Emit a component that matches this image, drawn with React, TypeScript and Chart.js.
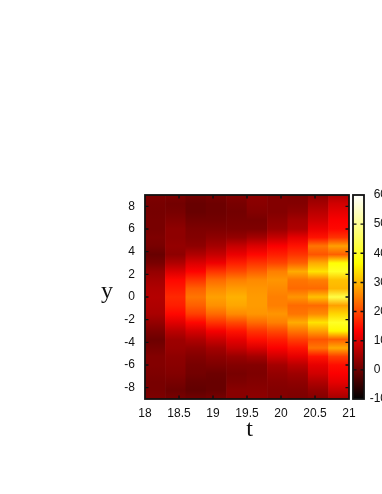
import React, { useEffect, useRef } from "react";
import { Chart, registerables } from "chart.js";

Chart.register(...registerables);

const rowY = [9, 8.25, 7.5, 6.75, 6, 5.25, 4.5, 3.75, 3, 2.25, 1.5, 0.75, 0, -0.75, -1.5, -2.25, -3, -3.75, -4.5, -5.25, -6, -6.75, -7.5, -8.25, -9];
const columnT = [18.15, 18.45, 18.75, 19.05, 19.35, 19.65, 19.95, 20.25, 20.55, 20.85];

const col0 = [1.5, 1, 0.8, 1, 1, 1.5, 1, -0.5, 1, 3.5, 5, 6, 6.5, 6, 5.5, 3.5, 1.5, 0, 1, 2, 2, 1.5, 1, 1, 1.5];
const col1 = [1.5, 0.5, 1, 2, 3, 3, 3.5, 3, 6, 10, 14, 15.5, 17, 16, 14, 10.5, 7, 4.5, 4, 3, 2.5, 2, 1, 0, 1];
const col2 = [0.5, -0.5, -0.5, 0.5, 1.5, 2, 3, 6, 10, 13.5, 18, 22, 24, 22, 19, 14, 9.5, 6, 3.5, 2, 1, 0.5, -0.5, -1, 0.5];
const col3 = [1, 0, 0, 0.5, 1.5, 3, 5, 8, 12, 18, 23, 26, 28, 26.5, 23, 18, 12.5, 8.5, 5, 3, 1.5, 0, -0.5, -0.5, 1];
const col4 = [2, 1, 0.5, 1, 1.5, 3.5, 8, 11.5, 16, 20, 25, 27.5, 29.5, 28.5, 26, 20, 15, 11, 8, 4, 2, 1, 1.5, 2.5, 2.5];
const col5 = [3, 2.5, 2, 1, 1.5, 5, 10, 14, 18, 22, 26, 27, 27.5, 27.5, 27, 23, 18, 14.5, 10, 5, 2, 1.5, 2, 2.5, 3];
const col6 = [2, 2, 2, 3, 4, 8, 13, 16, 19.5, 25, 27, 26, 25, 25, 27, 25, 20, 16, 13, 9, 5, 3.5, 2.5, 2, 2];
const col7 = [1.5, 2, 3, 5, 6, 11, 15, 18, 22, 29, 24, 23, 27, 23, 24, 29, 24, 19, 15, 11, 7, 4.5, 3, 2, 1.5];
const col8 = [3, 5, 7, 9, 11.5, 15, 24, 21, 29, 34, 25, 23, 31, 23, 26, 34, 28, 21, 24, 15, 11, 9, 6, 3.5, 2];
const col9 = [6, 9, 11, 13, 14, 18, 28, 22, 37, 40, 31, 30, 43, 28, 33, 40, 36, 22, 29, 19, 14.5, 13, 11, 8, 5];
const columns = [col0, col1, col2, col3, col4, col5, col6, col7, col8, col9];

const xTickValues = [18, 18.5, 19, 19.5, 20, 20.5, 21];
const yTickValues = [-8, -6, -4, -2, 0, 2, 4, 6, 8];
const cbTickValues = [-10, 0, 10, 20, 30, 40, 50, 60];

const paletteValues = [-10, 13.33, 36.67, 60];
const paletteColors = [[0, 0, 0], [255, 0, 0], [255, 255, 0], [255, 255, 255]];

const yMin = -9;
const yMax = 9;
const cbMin = -10;
const cbMax = 60;

function colorOf(v: number): string {
  const t = Math.max(paletteValues[0], Math.min(paletteValues[3], v));
  let i = 0;
  while (i < 2 && t > paletteValues[i + 1]) i++;
  const f = (t - paletteValues[i]) / (paletteValues[i + 1] - paletteValues[i]);
  const c = paletteColors[i].map((a, k) => Math.round(a + (paletteColors[i + 1][k] - a) * f));
  return `rgb(${c[0]},${c[1]},${c[2]})`;
}

const INK = "#111";

function setTicks(values: number[]) {
  return (s: any) => {
    s.ticks = values.map((value) => ({ value }));
  };
}

function tickFrame(xId: string | null) {
  return {
    id: "tickFrame",
    afterDatasetsDraw(chart: any) {
      const { ctx, chartArea: a, scales } = chart;
      ctx.save();
      ctx.strokeStyle = INK;
      ctx.lineWidth = 1.4;
      const len = 3.5;
      const yScale = xId ? scales.y : scales.cb;
      yScale.ticks.forEach((t: any) => {
        const p = yScale.getPixelForValue(t.value);
        if (p <= a.top + 1 || p >= a.bottom - 1) return;
        ctx.beginPath();
        ctx.moveTo(a.left, p);
        ctx.lineTo(a.left + len, p);
        ctx.moveTo(a.right, p);
        ctx.lineTo(a.right - len, p);
        ctx.stroke();
      });
      if (xId) {
        const xs = scales[xId];
        xs.ticks.forEach((t: any) => {
          const p = xs.getPixelForValue(t.value);
          if (p <= a.left + 1 || p >= a.right - 1) return;
          ctx.beginPath();
          ctx.moveTo(p, a.top);
          ctx.lineTo(p, a.top + len);
          ctx.moveTo(p, a.bottom);
          ctx.lineTo(p, a.bottom - len);
          ctx.stroke();
        });
      }
      ctx.lineWidth = 1.8;
      ctx.strokeRect(a.left, a.top, a.right - a.left, a.bottom - a.top);
      ctx.restore();
    },
  };
}

const axisTitles = {
  id: "axisTitles",
  afterDraw(chart: any) {
    const { ctx } = chart;
    ctx.save();
    ctx.font = "24px 'Liberation Serif'";
    ctx.fillStyle = "#111";
    ctx.textAlign = "center";
    ctx.textBaseline = "alphabetic";
    ctx.fillText("y", 107, 298);
    ctx.fillText("t", 249.5, 436);
    ctx.restore();
  },
};

const tickFont = { family: "'Liberation Sans'", size: 12 };

export default function App() {
  const mainRef = useRef<HTMLCanvasElement>(null);
  const barRef = useRef<HTMLCanvasElement>(null);

  useEffect(() => {
    const main = new Chart(mainRef.current!, {
      type: "bar",
      data: {
        datasets: [
          {
            data: columnT.map((t) => ({ x: t, y: [yMin, yMax] })) as any,
            barPercentage: 1.03,
            categoryPercentage: 1,
            borderWidth: 0,
            backgroundColor: (c: any) => {
              const col = columns[c.dataIndex];
              if (!col || !c.chart.chartArea) return "#000";
              const ys = c.chart.scales.y;
              const top = ys.getPixelForValue(yMax);
              const bot = ys.getPixelForValue(yMin);
              const g = c.chart.ctx.createLinearGradient(0, top, 0, bot);
              col.forEach((v, i) => {
                g.addColorStop((ys.getPixelForValue(rowY[i]) - top) / (bot - top), colorOf(v));
              });
              return g;
            },
          },
        ],
      },
      options: {
        animation: false,
        responsive: false,
        layout: { padding: { top: 195, right: 33, left: 0, bottom: 0 } },
        plugins: { legend: { display: false }, tooltip: { enabled: false } },
        scales: {
          x: {
            type: "linear",
            min: 18,
            max: 21,
            offset: false,
            grid: { display: false, drawTicks: false },
            border: { display: false },
            afterBuildTicks: setTicks(xTickValues),
            ticks: { padding: 7, color: INK, font: tickFont, maxRotation: 0, autoSkip: false, callback: (v: any) => String(v) },
            afterFit: (s: any) => { s.height = 95; },
          },
          y: {
            type: "linear",
            min: yMin,
            max: yMax,
            grid: { display: false, drawTicks: false },
            border: { display: false },
            afterBuildTicks: setTicks(yTickValues),
            ticks: { padding: 10, color: INK, font: tickFont, autoSkip: false, callback: (v: any) => String(v) },
            afterFit: (s: any) => { s.width = 145; },
          },
        } as any,
      },
      plugins: [tickFrame("x"), axisTitles],
    } as any);

    const bar = new Chart(barRef.current!, {
      type: "bar",
      data: {
        labels: [""],
        datasets: [
          {
            data: [[cbMin, cbMax]] as any,
            barPercentage: 1,
            categoryPercentage: 1,
            borderWidth: 0,
            backgroundColor: (c: any) => {
              if (!c.chart.chartArea) return "#000";
              const ys = c.chart.scales.cb;
              const top = ys.getPixelForValue(cbMax);
              const bot = ys.getPixelForValue(cbMin);
              const g = c.chart.ctx.createLinearGradient(0, top, 0, bot);
              paletteValues.forEach((v, i) => {
                const k = paletteColors[i];
                g.addColorStop((ys.getPixelForValue(v) - top) / (bot - top), `rgb(${k[0]},${k[1]},${k[2]})`);
              });
              return g;
            },
            yAxisID: "cb",
          },
        ],
      },
      options: {
        animation: false,
        responsive: false,
        layout: { padding: { top: 195, left: 13, right: 0, bottom: 95 } },
        plugins: { legend: { display: false }, tooltip: { enabled: false } },
        scales: {
          x: { display: false },
          cb: {
            type: "linear",
            position: "right",
            min: cbMin,
            max: cbMax,
            grid: { display: false, drawTicks: false },
            border: { display: false },
            afterBuildTicks: setTicks(cbTickValues),
            ticks: {
              padding: 4,
              color: INK,
              font: tickFont,
              crossAlign: "far",
              autoSkip: false,
              callback: (v: any) => (v === 0 ? "0  " : String(v)),
            },
            afterFit: (s: any) => { s.width = 23; },
          },
        },
      },
      plugins: [tickFrame(null)],
    } as any);

    return () => {
      main.destroy();
      bar.destroy();
    };
  }, []);

  const blur = "blur(0.35px)";
  return (
    <div style={{ position: "absolute", left: 0, top: 0, width: 382, height: 494, overflow: "hidden", background: "#fff" }}>
      <canvas ref={mainRef} width={382} height={494} style={{ position: "absolute", left: 0, top: 0, width: 382, height: 494, filter: blur }} />
      <canvas ref={barRef} width={47} height={494} style={{ position: "absolute", left: 340, top: 0, width: 47, height: 494, filter: blur }} />
    </div>
  );
}
